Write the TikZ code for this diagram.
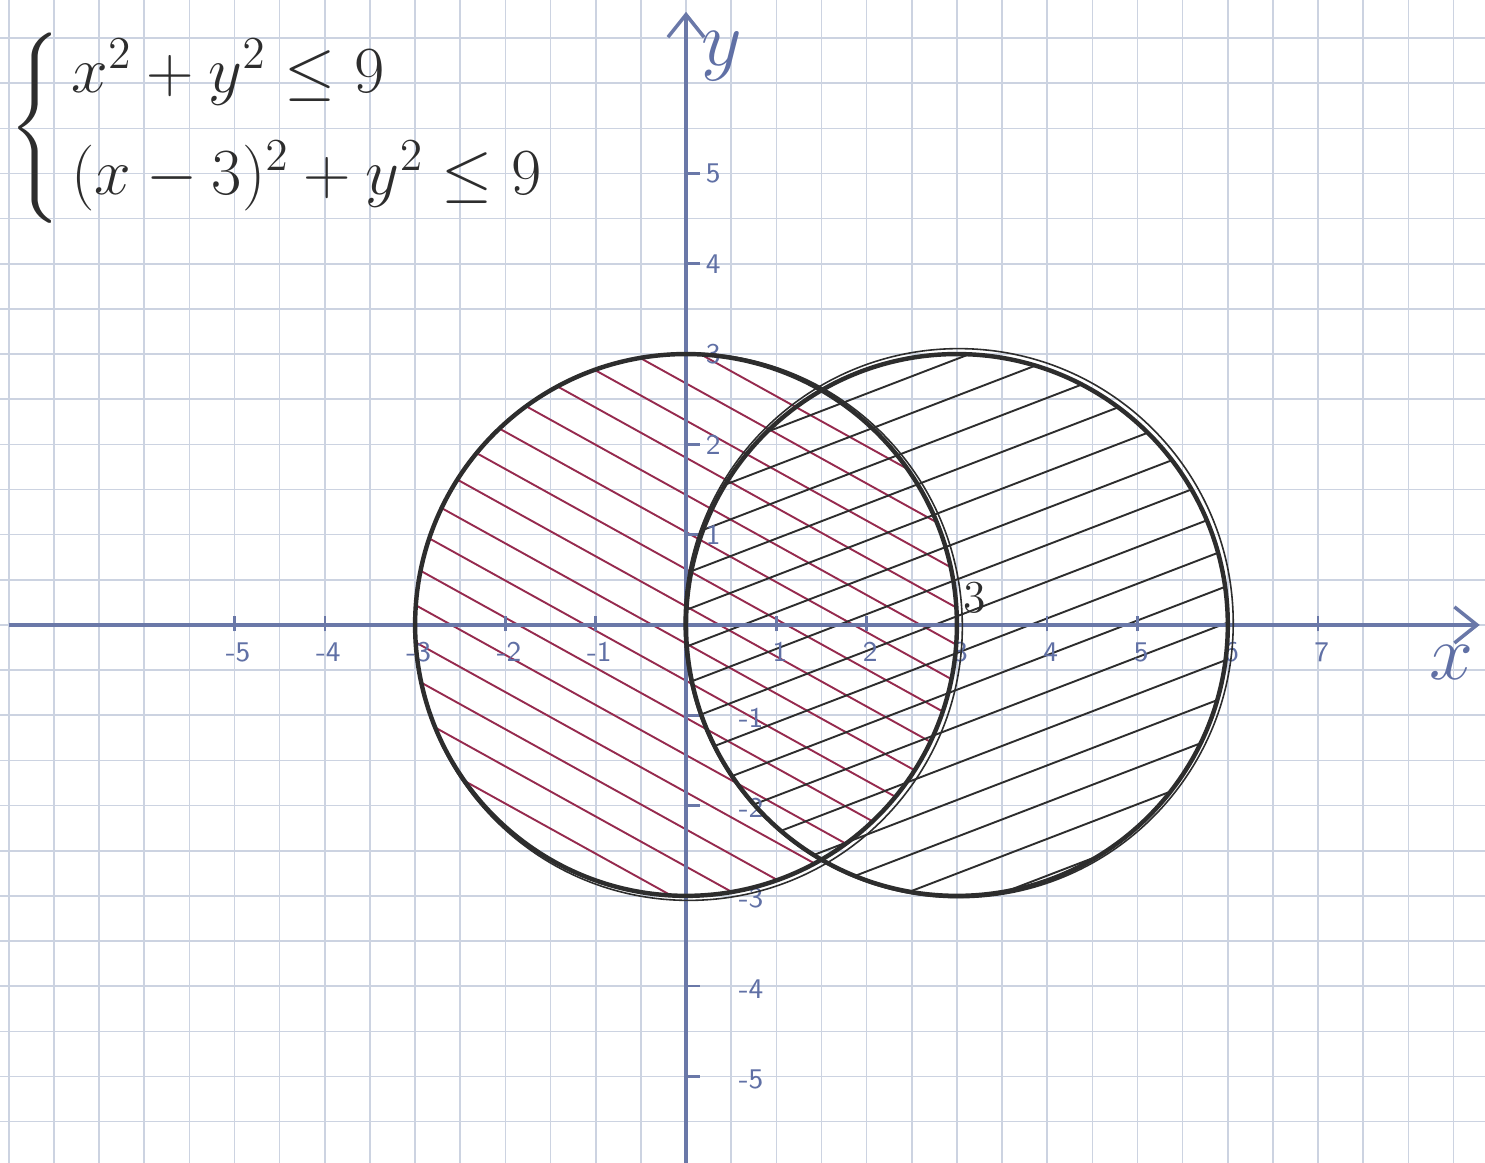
\documentclass[tikz,border=0pt]{standalone}
\usepackage{amsmath,amssymb}
\usetikzlibrary{arrows.meta}

\definecolor{gridblue}{RGB}{204,211,225}
\definecolor{axisblue}{RGB}{106,120,168}
\definecolor{penblue}{RGB}{96,112,165}
\definecolor{hatchred}{RGB}{150,42,78}
\definecolor{pencil}{RGB}{45,45,45}

\begin{document}
\begin{tikzpicture}[
  penlabel/.style={font=\sffamily\small, penblue, inner sep=1pt},
  rim/.style={pencil, line width=1.4pt},
  rimsketch/.style={pencil, line width=0.5pt},
  axisline/.style={axisblue, line width=1.1pt, -{Straight Barb[length=2.5mm,width=4mm]}}]
% Page and graph paper
\useasboundingbox (-7.597,-5.958) rectangle (8.848,6.921);
\fill[white] (-7.597,-5.958) rectangle (8.848,6.921);
\draw[gridblue, line width=0.5pt, step=0.5] (-7.597,-5.958) grid (8.848,6.921);
% Hatching of the first disc
\begin{scope}
  \clip (0,0) circle (3);
  \foreach \k in {-3.06,-2.7,...,3.1}
    \draw[hatchred, line width=0.6pt, rotate=-29] (-3.6,\k) -- (3.6,\k);
\end{scope}
% Hatching of the second disc
\begin{scope}[shift={(3,0)}]
  \clip (0,0) circle (3);
  \foreach \k in {-2.95,-2.57,...,3.0}
    \draw[pencil, line width=0.6pt, rotate=21] (-3.6,\k) -- (3.6,\k);
\end{scope}
% Axes
\draw[axisline] (-7.5,0) -- (8.79,0);
\draw[axisline] (0,-5.96) -- (0,6.79);
\foreach \i in {-5,...,-1,1,2,...,7}
  \draw[axisblue, line width=0.8pt] (\i,-0.07) -- (\i,0.1);
\foreach \j in {-5,...,-1,1,2,...,5}
  \draw[axisblue, line width=0.8pt] (0,\j) -- (0.15,\j);
% Tick labels
\foreach \i in {-5,...,-1,1,2,...,7}
  \node[penlabel] (xt\i) at (\i+0.04,-0.3) {\i};
\foreach \j in {1,2,...,5}
  \node[penlabel] (yt\j) at (0.3,\j) {\j};
\foreach \j in {-5,...,-1}
  \node[penlabel] (yt\j) at (0.72,\j-0.03) {\j};
\node[font=\fontsize{24}{24}\selectfont, penblue] (ylabel) at (0.4,6.3) {$y$};
\node[font=\fontsize{24}{24}\selectfont, penblue, anchor=east] (xlabel) at (8.84,-0.42) {$x$};
% Circles
\draw[rim] (0,0) circle (3);
\draw[rimsketch] (0.03,-0.02) circle (3.03);
\draw[rim] (3,0) circle (3);
\draw[rimsketch] (3.02,0.02) circle (3.04);
\node[font=\Large, pencil] (three) at (3.2,0.3) {3};
% System of inequalities
\node[anchor=north west, pencil, font=\fontsize{20}{24}\selectfont, inner sep=0pt] (system) at (-7.5,6.56)
  {$\left\{\begin{array}{@{\,}l} x^2+y^2\le 9\\[8pt] (x-3)^2+y^2\le 9\end{array}\right.$};
\end{tikzpicture}
\end{document}
